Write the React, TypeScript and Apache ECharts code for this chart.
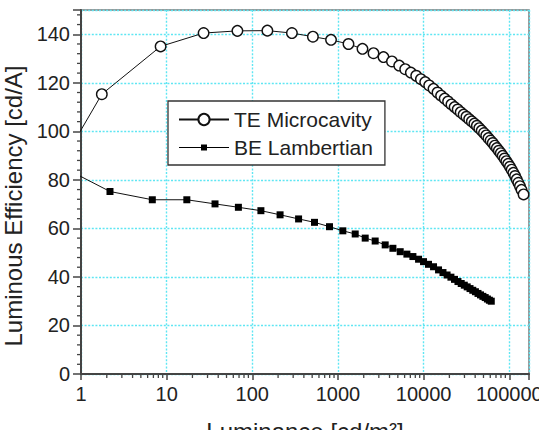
import React, { useEffect, useRef } from "react";
import * as echarts from "echarts";

// Top-emitting microcavity device (open circles)
const teLuminance = [
  0.6, 1.75, 8.5, 27, 67, 150, 290, 510, 830,
  1327, 1933, 2600, 3400, 4270, 5190, 6100, 7100, 8200, 9300, 10440, 11620, 13050, 14530,
  16000, 17620, 19320, 21130, 23010, 25000, 27100, 29310, 31620, 34040,
  36560, 39170, 41880, 44670, 47640, 50700, 53830, 57150, 60530, 64120,
  67760, 71610, 75510, 79620, 83750, 88100, 92470, 97050, 101860, 106660,
  111690, 116950, 122180, 127640, 133350, 139000, 146900,
];
const teEfficiency = [
  87.1, 115.3, 135, 140.5, 141.4, 141.5, 140.5, 139, 137.7,
  136.0, 134.0, 132.2, 130.6, 128.8, 127.1, 125.6, 124.2, 122.9, 121.5, 120.3, 118.9, 117.5, 116.0,
  114.7, 113.5, 112.3, 111.1, 110.0, 109.0, 107.9, 106.9, 106.0, 105.0,
  104.1, 103.2, 102.3, 101.3, 100.3, 99.3, 98.3, 97.2, 96.2, 95.2,
  94.1, 93.1, 92.0, 91.0, 89.9, 88.8, 87.7, 86.6, 85.4, 84.2,
  82.9, 81.6, 80.2, 78.8, 77.4, 75.9, 74.0,
];

// Bottom-emitting Lambertian reference device (filled squares)
const beLuminance = [
  0.6, 2.18, 6.8, 17.2, 36.7, 68.8, 126, 211, 347, 532,
  797, 1140, 1590, 2080, 2720, 3560, 4380, 5330, 6380, 7500,
  8730, 9980, 11400, 13060, 14940, 16830, 18790, 20840, 22960, 25180,
  27480, 29850, 32280, 34830, 37500, 40270, 43150, 46130, 49200, 52360,
  55590, 58610, 61660,
];
const beEfficiency = [
  85.4, 75.2, 71.8, 71.8, 70.1, 68.7, 67.3, 65.6, 63.9, 62.5,
  60.7, 59.0, 57.7, 56.0, 54.8, 53.2, 51.8, 50.4, 49.4, 48.4,
  47.3, 46.3, 45.2, 44.2, 42.9, 41.8, 40.8, 39.9, 39.0, 38.1,
  37.3, 36.6, 35.9, 35.2, 34.5, 33.9, 33.2, 32.6, 32.0, 31.5,
  30.9, 30.4, 30.0,
];

const seriesNames = ["TE Microcavity", "BE Lambertian"];

// Axis ranges and tick positions
const xRange = [1, 170000];
const yRange = [0, 150];
const yMajorStep = 20;
const xDecades = [1, 10, 100, 1000, 10000];
const xMinorMultipliers = [2, 3, 4, 5, 6, 7, 8, 9];
const yMinorStep = 4;

const xMinorTicks = xDecades.flatMap((d) => xMinorMultipliers.map((m) => m * d));
const yMinorTicks: number[] = [];
for (let v = yMinorStep; v < yRange[1]; v += yMinorStep) {
  if (v % yMajorStep !== 0) yMinorTicks.push(v);
}

const FONT = "'Liberation Sans', Arial, Helvetica, sans-serif";
const AXIS_COLOR = "#444";
const GRID_LINE = { color: "#5fe6f3", width: 1.4, type: [2, 1.6] as number[] };

const zip = (xs: number[], ys: number[]) => xs.map((x, i) => [x, ys[i]]);

export default function App() {
  const ref = useRef<HTMLDivElement>(null);

  useEffect(() => {
    const chart = echarts.init(ref.current!, null, { renderer: "svg" });

    const option: any = {
      animation: false,
      backgroundColor: "#fff",
      textStyle: { fontFamily: FONT },
      grid: {
        left: 81,
        right: 10,
        top: 10,
        bottom: 56,
        outerBoundsMode: "none",
        containLabel: false,
        show: true,
        borderColor: "#777",
        borderWidth: 1.5,
        backgroundColor: "transparent",
      },
      legend: {
        orient: "vertical",
        left: 168,
        top: 101,
        padding: [8, 12, 7, 10],
        itemGap: 7,
        itemWidth: 50,
        itemHeight: 14,
        backgroundColor: "#fff",
        borderColor: "#333",
        borderWidth: 1.3,
        borderRadius: 0,
        textStyle: { fontSize: 21, color: "#222", fontFamily: FONT },
        data: [
          { name: seriesNames[0] },
          {
            name: seriesNames[1],
            icon: "path://M0,2.5 L50,2.5 L50,3.5 L0,3.5 Z M22,0 L28,0 L28,6 L22,6 Z",
          },
        ],
      },
      xAxis: {
        type: "log",
        logBase: 10,
        min: xRange[0],
        max: xRange[1],
        name: "Luminance [cd/m²]",
        nameLocation: "middle",
        nameGap: 45,
        nameTextStyle: { fontSize: 24, color: "#222", fontFamily: FONT },
        axisLine: { lineStyle: { color: AXIS_COLOR, width: 2 } },
        axisTick: { length: 6, lineStyle: { color: AXIS_COLOR, width: 1.5 } },
        axisLabel: {
          fontSize: 20,
          color: "#222",
          margin: 10,
          fontFamily: FONT,
          formatter: (v: number) => {
            const l = Math.log10(v);
            return Math.abs(l - Math.round(l)) < 1e-6 ? String(Math.round(v)) : "";
          },
        },
        splitLine: { show: true, lineStyle: GRID_LINE },
      },
      yAxis: {
        type: "value",
        min: yRange[0],
        max: yRange[1],
        interval: yMajorStep,
        name: "Luminous Efficiency [cd/A]",
        nameLocation: "middle",
        nameGap: 52,
        nameTextStyle: { fontSize: 24, color: "#222", fontFamily: FONT, padding: [0, 28, 0, 0] },
        axisLine: { show: true, lineStyle: { color: AXIS_COLOR, width: 2 } },
        axisTick: { show: true, length: 8, lineStyle: { color: AXIS_COLOR, width: 1.5 } },
        axisLabel: {
          fontSize: 20,
          color: "#222",
          margin: 11,
          fontFamily: FONT,
          formatter: (v: number) => (v % yMajorStep === 0 ? String(v) : ""),
        },
        splitLine: { show: true, lineStyle: GRID_LINE },
      },
      series: [
        {
          name: seriesNames[0],
          type: "line",
          data: zip(teLuminance, teEfficiency),
          symbol: "circle",
          symbolSize: 10.5,
          lineStyle: { color: "#111", width: 1 },
          itemStyle: { color: "#fff", borderColor: "#111", borderWidth: 1.4 },
          z: 3,
        },
        {
          name: seriesNames[1],
          type: "line",
          data: zip(beLuminance, beEfficiency),
          symbol: "rect",
          symbolSize: 7,
          lineStyle: { color: "#111", width: 1 },
          itemStyle: { color: "#000", borderWidth: 0 },
          z: 3,
        },
        {
          name: "x minor ticks",
          type: "custom",
          silent: true,
          clip: false,
          data: xMinorTicks.map((v) => [v, yRange[0]]),
          renderItem: (_p: any, api: any) => {
            const pt = api.coord([api.value(0), yRange[0]]);
            return {
              type: "line",
              shape: { x1: pt[0], y1: pt[1], x2: pt[0], y2: pt[1] + 4 },
              style: { stroke: AXIS_COLOR, lineWidth: 1.3 },
            };
          },
          z: 4,
        },
        {
          name: "y minor ticks",
          type: "custom",
          silent: true,
          clip: false,
          data: yMinorTicks.map((v) => [xRange[0], v]),
          renderItem: (_p: any, api: any) => {
            const pt = api.coord([xRange[0], api.value(1)]);
            return {
              type: "line",
              shape: { x1: pt[0], y1: pt[1], x2: pt[0] - 4, y2: pt[1] },
              style: { stroke: AXIS_COLOR, lineWidth: 1.3 },
            };
          },
          z: 4,
        },
      ],
    };

    chart.setOption(option);
    return () => chart.dispose();
  }, []);

  return (
    <div
      ref={ref}
      style={{ position: "fixed", left: 0, top: 0, width: 539, height: 430, background: "#fff" }}
    />
  );
}
